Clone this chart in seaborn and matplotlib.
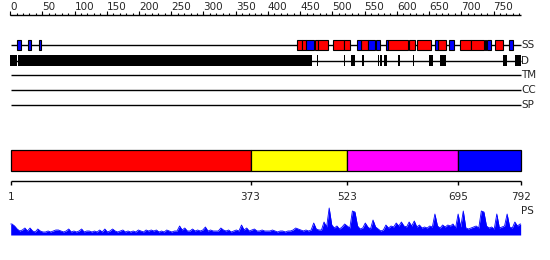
import numpy as np
import pandas as pd
import matplotlib
matplotlib.use("Agg")
import matplotlib.pyplot as plt
import seaborn as sns

# ---------------- data ----------------
seq_len = 792
ruler_major = list(range(0, 751, 50))
ruler_minor = list(range(0, 791, 10))

helix_start = [445, 453, 474, 478, 501, 519, 545, 587, 619, 632, 665, 699, 716, 752]
helix_end   = [452, 458, 477, 492, 517, 527, 554, 616, 627, 652, 676, 715, 734, 764]

strand_start = [11, 28, 45, 459, 538, 555, 568, 583, 659, 682, 737, 741, 775]
strand_end   = [16, 32, 48, 471, 544, 566, 574, 585, 664, 688, 737, 746, 780]

disorder_start = [1, 13, 476, 518, 529, 547, 571, 575, 580, 602, 625, 650, 668, 765, 783]
disorder_end   = [11, 468, 476, 518, 535, 547, 571, 577, 584, 605, 625, 656, 675, 771, 792]

track_names = ["SS", "D", "TM", "CC", "SP"]

domain_start = [1, 373, 523, 695]
domain_end = [373, 523, 695, 792]
domain_colors = ["#ff0000", "#ffff00", "#ff00ff", "#0000ff"]
domain_ticks = [1, 373, 523, 695, 792]

ps_bin = 4
ps_values = [
    11, 9, 6, 4, 5, 7, 4, 7, 4, 3,
    6, 4, 3, 3, 4, 3, 4, 5, 5, 4,
    3, 4, 6, 3, 4, 3, 4, 6, 3, 4,
    4, 3, 4, 3, 5, 3, 6, 3, 4, 6,
    4, 3, 4, 5, 3, 4, 3, 4, 3, 5,
    4, 3, 5, 4, 5, 4, 5, 3, 4, 3,
    5, 4, 3, 4, 4, 9, 5, 7, 4, 4,
    6, 4, 5, 4, 5, 8, 4, 5, 4, 4,
    4, 7, 5, 4, 5, 3, 4, 5, 4, 10,
    5, 7, 4, 5, 6, 4, 4, 5, 4, 4,
    4, 5, 4, 3, 4, 4, 3, 4, 4, 5,
    7, 6, 5, 4, 5, 4, 5, 12, 6, 5,
    5, 13, 8, 27, 10, 7, 9, 6, 8, 11,
    9, 7, 24, 23, 9, 6, 7, 12, 8, 6,
    15, 8, 6, 4, 5, 10, 7, 9, 8, 12,
    9, 13, 9, 8, 13, 9, 14, 8, 10, 7,
    8, 7, 9, 8, 21, 9, 7, 10, 8, 10,
    9, 11, 7, 21, 8, 24, 7, 6, 7, 8,
    9, 7, 24, 23, 9, 7, 8, 6, 21, 7,
    8, 9, 21, 8, 7, 13, 9, 11,
]

# ---------------- layout ----------------
W, H = 550, 260
X0, S = 10.7, 0.6447          # pixel of residue 1, pixels per residue
xl = 1 - X0 / S
xr = 1 + (W - X0) / S

sns.set_theme(style="white")
plt.rcParams["font.family"] = ["DejaVu Sans"]

fig = plt.figure(figsize=(W / 100, H / 100), dpi=100)
ax = fig.add_axes([0, 0, 1, 1])
ax.set_xlim(xl, xr)
ax.set_ylim(H, 0)
ax.axis("off")

fs = 7.5
# ruler
ax.hlines(15, 0, seq_len, color="black", lw=1)
ax.vlines(ruler_minor, 12.5, 15, color="black", lw=0.8)
ax.vlines(ruler_major, 11, 15, color="black", lw=0.8)
for t in ruler_major:
    ax.text(t, 11.5, str(t), ha="left", va="bottom", fontsize=fs)

# track lines
track_y = [45, 60.5, 75, 90, 105]
for name, y in zip(track_names, track_y):
    ax.hlines(y, 1, seq_len, color="black", lw=1)
    ax.text(seq_len + 1, y, name, ha="left", va="center", fontsize=fs)

# secondary structure
def blocks(starts, ends, y, h, color, edge, lw):
    s = np.array(starts, float)
    e = np.array(ends, float)
    w = np.maximum(e - s + 1, 2.0)
    ax.barh(y, w, left=s - 0.5, height=h, color=color, edgecolor=edge, linewidth=lw, zorder=3)

blocks(helix_start, helix_end, 45, 10, "#ff0000", "black", 0.8)
blocks(strand_start, strand_end, 45, 10, "#0000ff", "black", 0.8)
blocks(disorder_start, disorder_end, 60.5, 10.5, "black", "none", 0)

# domain bar
dw = np.array(domain_end) - np.array(domain_start)
ax.barh(160.5, dw, left=domain_start, height=20.5, color=domain_colors,
        edgecolor="black", linewidth=0.9, zorder=3)
ax.hlines(180.7, 1, seq_len, color="black", lw=1)
ax.vlines(domain_ticks, 180.7, 185, color="black", lw=1)
for t in domain_ticks:
    ax.text(t, 192.5, str(t), ha="center", va="top", fontsize=fs)

ax.text(seq_len + 1, 211, "PS", ha="left", va="center", fontsize=fs)

# PS profile
ps_df = pd.DataFrame({
    "pos": np.arange(len(ps_values)) * ps_bin + 1 + ps_bin / 2,
    "score": ps_values,
})
ps_top, ps_base = 205, 235
pax = fig.add_axes([0, 1 - ps_base / H, 1, (ps_base - ps_top) / H])
pax.set_xlim(xl, xr)
pax.set_ylim(0, ps_base - ps_top)
pax.axis("off")
xe = np.concatenate([[1], ps_df["pos"].values, [seq_len]])
ye = np.concatenate([[ps_values[0]], ps_df["score"].values, [ps_values[-1]]])
pax.fill_between(xe, 0, ye, color="#0000ff", lw=0)
sns.lineplot(x=xe, y=ye, color="#0000ff", lw=0.6, ax=pax, sort=False)

fig.savefig("out.png", dpi=100)
